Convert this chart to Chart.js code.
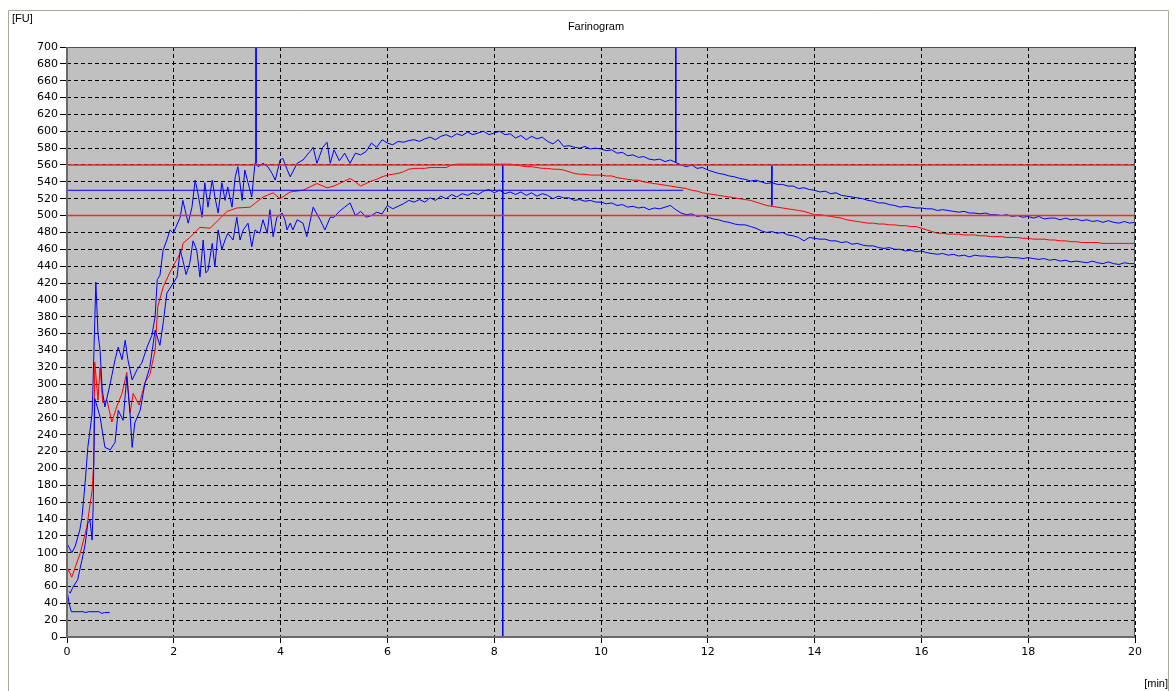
<!DOCTYPE html>
<html>
<head>
<meta charset="utf-8">
<title>Farinogram</title>
<script src="https://cdn.jsdelivr.net/npm/chart.js@4.4.1/dist/chart.umd.min.js"></script>
<style>
  html, body { margin: 0; padding: 0; background: #fff; }
  canvas { display: block; }
</style>
</head>
<body>
<canvas id="farinoChart" width="1176" height="691"></canvas>
<script>
// ==================== curve data (time in min, consistency in FU) ====================
// first 5 minutes, sampled unevenly (mixing phase is very noisy)
const upperEarlyT = [0, 0.09, 0.15, 0.24, 0.28, 0.34, 0.39, 0.47, 0.49, 0.54, 0.58, 0.62, 0.66, 0.71, 0.81,
  0.9, 0.96, 1.03, 1.09, 1.14, 1.22, 1.31, 1.4, 1.5, 1.59, 1.65, 1.69, 1.74, 1.8, 1.87, 1.93, 1.99, 2.12, 2.17,
  2.21, 2.27, 2.34, 2.4, 2.45, 2.53, 2.58, 2.64, 2.72, 2.77, 2.83, 2.9, 2.96, 3.01, 3.09, 3.15, 3.2, 3.28, 3.33,
  3.39, 3.46, 3.52, 3.58, 3.67, 3.76, 3.84, 3.9, 3.99, 4.04, 4.12, 4.18, 4.31, 4.42, 4.55, 4.61, 4.68, 4.79, 4.87, 4.93];
const upperEarlyFU = [111, 100, 107, 127, 142, 183, 225, 265, 305, 421, 360, 340, 293, 273, 301,
  329, 344, 329, 352, 329, 305, 317, 325, 344, 358, 380, 424, 429, 459, 471, 483, 479, 498, 518,
  507, 491, 510, 542, 527, 498, 539, 510, 542, 522, 503, 539, 518, 534, 510, 546, 558, 518, 554,
  539, 522, 562, 558, 562, 558, 550, 542, 566, 568, 555, 546, 562, 566, 576, 581, 562, 581, 587, 562];

const lowerEarlyT = [0.04, 0.06, 0.11, 0.2, 0.24, 0.28, 0.34, 0.39, 0.43, 0.47, 0.49, 0.52, 0.62, 0.71, 0.81,
  0.9, 0.96, 1.05, 1.12, 1.18, 1.22, 1.27, 1.37, 1.46, 1.55, 1.65, 1.74, 1.8, 1.87, 1.99, 2.06, 2.12, 2.17, 2.23,
  2.3, 2.36, 2.43, 2.49, 2.55, 2.6, 2.64, 2.72, 2.77, 2.83, 2.9, 2.96, 3.01, 3.11, 3.18, 3.24, 3.3, 3.39, 3.46,
  3.52, 3.61, 3.67, 3.75, 3.8, 3.86, 3.93, 4.03, 4.08, 4.12, 4.18, 4.23, 4.31, 4.42, 4.49, 4.61, 4.74, 4.83, 4.93];
const lowerEarlyFU = [54, 52, 59, 68, 80, 91, 110, 135, 139, 115, 154, 283, 261, 225, 222,
  231, 269, 257, 309, 266, 225, 254, 269, 301, 320, 364, 346, 372, 408, 420, 427, 459, 447, 430,
  444, 470, 459, 427, 471, 432, 435, 467, 439, 483, 460, 471, 479, 471, 498, 471, 483, 491, 463,
  483, 479, 495, 479, 507, 475, 498, 503, 495, 483, 491, 483, 495, 491, 475, 510, 495, 483, 498];

const medianEarlyT = [0, 0.09, 0.25, 0.37, 0.47, 0.5, 0.52, 0.58, 0.62, 0.67, 0.75, 0.84, 0.93, 1.03, 1.12,
  1.18, 1.24, 1.35, 1.46, 1.55, 1.65, 1.7, 1.8, 1.93, 2.15, 2.17, 2.3, 2.49, 2.68, 2.87, 3.0, 3.18, 3.43,
  3.67, 3.86, 3.99, 4.18, 4.42, 4.68, 4.87];
const medianEarlyFU = [83, 71, 100, 130, 174, 206, 326, 281, 320, 278, 281, 255, 273, 289, 314,
  266, 289, 275, 302, 311, 340, 392, 415, 433, 459, 467, 474, 486, 485, 497, 505, 509, 510,
  522, 527, 520, 528, 530, 538, 533];

// 5.0 .. 20.0 min, one reading every 0.1 min
const upperLateFU = [
  578, 565, 574, 562, 574, 572, 576, 586, 581, 590,
  586, 584, 588, 587, 589, 590, 588, 591, 593, 590,
  594, 596, 593, 597, 595, 599, 596, 598, 600, 596,
  598, 600, 596, 597, 592, 595, 590, 594, 591, 593,
  588, 585, 590, 582, 583, 581, 580, 582, 579, 580,
  579, 577, 578, 574, 575, 571, 572, 569, 570, 567,
  566, 567, 564, 566, 563, 560, 558, 560, 556, 557,
  554, 552, 550, 549, 547, 546, 544, 543, 541, 542,
  540, 538, 539, 537, 537, 535, 535, 532, 533, 531,
  530, 528, 529, 526, 527, 524, 523, 522, 521, 520,
  518, 517, 515, 515, 513, 512, 510, 511, 510, 509,
  509, 508, 508, 506, 507, 506, 505, 504, 505, 503,
  503, 502, 503, 501, 501, 500, 501, 499, 500, 498,
  499, 497, 499, 496, 497, 497, 495, 497, 495, 496,
  494, 495, 493, 494, 492, 494, 492, 491, 493, 491,
  492];
const lowerLateFU = [
  498, 505, 510, 515, 500, 505, 498, 500, 504, 502,
  512, 508, 511, 514, 518, 516, 519, 516, 521, 518,
  523, 520, 525, 522, 526, 524, 527, 525, 529, 531,
  527, 530, 526, 528, 525, 528, 524, 527, 523, 526,
  524, 520, 523, 521, 521, 518, 519, 517, 518, 516,
  516, 514, 515, 512, 513, 510, 511, 509, 510, 507,
  509, 508, 510, 512, 507, 503, 501, 502, 499, 500,
  498, 496, 495, 493, 492, 490, 489, 489, 487, 485,
  482, 480, 481, 479, 480, 477, 476, 474, 470, 474,
  473, 472, 472, 470, 470, 468, 469, 466, 467, 465,
  464, 464, 462, 461, 462, 460, 460, 458, 459, 457,
  458, 456, 455, 454, 455, 453, 454, 452, 453, 451,
  453, 452, 452, 451, 451, 450, 451, 450, 450, 449,
  450, 449, 448, 449, 447, 448, 446, 447, 445, 446,
  445, 444, 446, 444, 443, 445, 443, 442, 444, 443,
  443];
const medianLateFU = [
  535, 538, 541, 544, 540, 535, 538, 541, 543, 546,
  548, 549, 550, 552, 555, 556, 556, 556, 557, 557,
  557, 557, 560, 561, 561, 561, 561, 561, 561, 561,
  561, 561, 561, 561, 560, 559, 558, 558, 557, 556,
  556, 555, 555, 554, 552, 550, 549, 549, 548, 548,
  548, 547, 547, 545, 544, 543, 542, 542, 540, 539,
  538, 537, 536, 535, 534, 533, 532, 530, 529, 527,
  526, 525, 524, 523, 522, 521, 520, 519, 518, 516,
  514, 512, 511, 510, 509, 508, 507, 506, 505, 503,
  501, 501, 500, 499, 498, 497, 495, 494, 493, 492,
  491, 491, 490, 490, 489, 489, 488, 488, 487, 487,
  485, 483, 481, 479, 479, 478, 478, 478, 477, 477,
  477, 476, 476, 475, 475, 475, 474, 474, 474, 473,
  473, 472, 472, 472, 471, 471, 470, 470, 469, 469,
  468, 468, 468, 468, 467, 467, 467, 467, 467, 467,
  467];

// start-up trace of the empty mixer
const startT = [0, 0, 0.04, 0.08, 0.3, 0.35, 0.4, 0.6, 0.65, 0.7, 0.8];
const startFU = [0, 55, 40, 30, 30, 29, 30, 30, 28, 29, 29];

// evaluation marks
const bandFU = [500, 560];               // consistency band
const levelFU = 530, levelEndT = 11.54;  // horizontal reference
const markerT = [3.54, 8.16, 11.4, 13.2];
const markerTop = [700, 560, 700, 560];
const markerBottom = [562, 0, 563, 512];

// axis
const xMax = 20, xStep = 2;
const yMax = 700, yStep = 20;

// ======================================================================
const lateT = [];
for (let i = 0; i < upperLateFU.length; i++) lateT.push(+(5 + i * 0.1).toFixed(1));

function pairs(ts, vs) {
  return ts.map((t, i) => ({ x: t, y: vs[i] }));
}

function line(data, color, width) {
  return {
    data: data,
    borderColor: color,
    borderWidth: width || 1,
    pointRadius: 0,
    tension: 0,
    fill: false
  };
}

const BLUE = '#0000ff';
const RED = '#ff0000';

const datasets = [];
bandFU.forEach(v => datasets.push(line([{ x: 0, y: v }, { x: xMax, y: v }], '#f02828', 1.6)));
datasets.push(line([{ x: 0, y: levelFU }, { x: levelEndT, y: levelFU }], BLUE));
markerT.forEach((t, i) => datasets.push(line([{ x: t, y: markerTop[i] }, { x: t, y: markerBottom[i] }], BLUE)));
datasets.push(line(pairs(startT, startFU), BLUE));
datasets.push(line(pairs(upperEarlyT.concat(lateT), upperEarlyFU.concat(upperLateFU)), BLUE));
datasets.push(line(pairs(lowerEarlyT.concat(lateT), lowerEarlyFU.concat(lowerLateFU)), BLUE));
datasets.push(line(pairs(medianEarlyT.concat(lateT), medianEarlyFU.concat(medianLateFU)), RED));

// gray plot background, frame and captions
const farinoFrame = {
  id: 'farinoFrame',
  beforeDraw(chart) {
    const { ctx, chartArea: a } = chart;
    ctx.save();
    ctx.fillStyle = '#fff';
    ctx.fillRect(0, 0, chart.width, chart.height);
    ctx.fillStyle = '#c0c0c0';
    ctx.fillRect(a.left, a.top, a.right - a.left, a.bottom - a.top);
    // outer panel border
    ctx.strokeStyle = '#aca899';
    ctx.lineWidth = 1;
    ctx.beginPath();
    ctx.moveTo(8.5, chart.height);
    ctx.lineTo(8.5, 10.5);
    ctx.lineTo(1168.5, 10.5);
    ctx.lineTo(1168.5, chart.height);
    ctx.stroke();
    ctx.restore();
  },
  afterDatasetsDraw(chart) {
    const { ctx, chartArea: a } = chart;
    ctx.save();
    ctx.strokeStyle = '#505050';
    ctx.lineWidth = 1;
    ctx.strokeRect(a.left + 0.5, a.top + 0.5, a.right - a.left - 1, a.bottom - a.top);
    ctx.lineWidth = 2;
    ctx.strokeStyle = '#6a6a6a';
    ctx.beginPath();
    ctx.moveTo(a.left, a.top);
    ctx.lineTo(a.left, a.bottom);
    ctx.lineTo(a.right, a.bottom);
    ctx.stroke();

    ctx.fillStyle = '#000';
    ctx.font = '11px "Liberation Sans", Arial, sans-serif';
    ctx.textBaseline = 'middle';
    ctx.textAlign = 'center';
    ctx.fillText('Farinogram', (a.left + a.right) / 2 - 5, 27);
    ctx.textAlign = 'left';
    ctx.fillText('[FU]', 12, 19);
    ctx.textAlign = 'right';
    ctx.fillText('[min]', 1168, 684);
    ctx.restore();
  }
};

const tickFont = { family: 'DejaVu Sans', size: 11 };

new Chart(document.getElementById('farinoChart'), {
  type: 'line',
  data: { datasets: datasets },
  options: {
    responsive: false,
    devicePixelRatio: 1,
    animation: false,
    events: [],
    layout: { padding: { left: 0, top: 47, right: 41, bottom: 0 } },
    plugins: {
      legend: { display: false },
      tooltip: { enabled: false },
      title: { display: false }
    },
    scales: {
      x: {
        type: 'linear',
        min: 0,
        max: xMax,
        afterFit(scale) { scale.height = 54; },
        ticks: { stepSize: xStep, color: '#000', font: tickFont, padding: 3, maxRotation: 0, autoSkip: false },
        grid: { color: '#000', lineWidth: 1, tickLength: 6, tickColor: '#000' },
        border: { display: false, dash: [4, 3] }
      },
      y: {
        type: 'linear',
        min: 0,
        max: yMax,
        afterFit(scale) { scale.width = 67; },
        ticks: { stepSize: yStep, color: '#000', font: tickFont, padding: 2, autoSkip: false },
        grid: { color: '#000', lineWidth: 1, tickLength: 7, tickColor: '#000' },
        border: { display: false, dash: [4, 3] }
      }
    }
  },
  plugins: [farinoFrame]
});
</script>
</body>
</html>
